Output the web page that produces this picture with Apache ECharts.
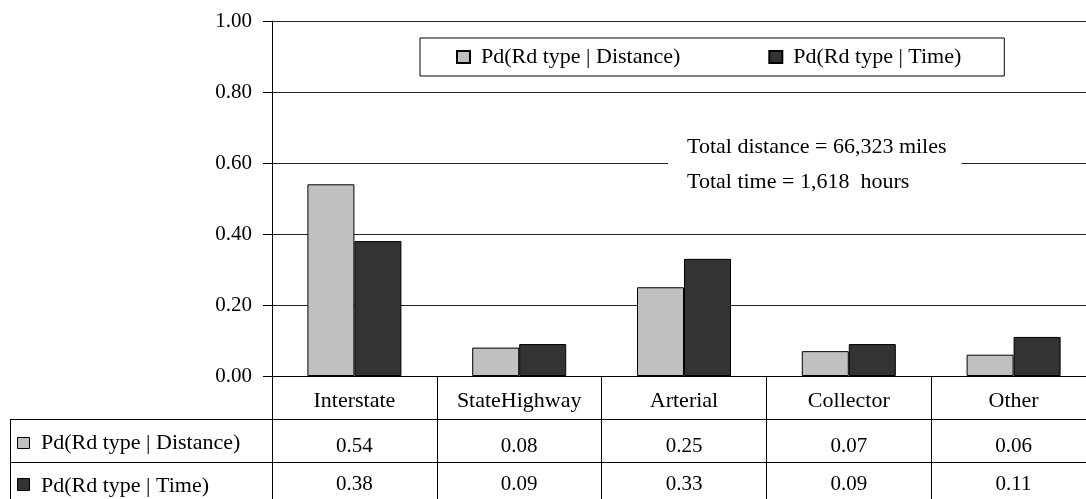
<!DOCTYPE html>
<html>
<head>
<meta charset="utf-8">
<script src="https://cdn.jsdelivr.net/npm/echarts@6/dist/echarts.min.js"></script>
<style>
  html, body { margin: 0; padding: 0; background: #fff; overflow: hidden; }
  /* the plot runs a little past the right edge of the picture */
  #chart { width: 1096px; height: 499px; }
</style>
</head>
<body>
<div id="chart"></div>
<script>
const categories = ["Interstate", "StateHighway", "Arterial", "Collector", "Other"];
const series_names = ["Pd(Rd type | Distance)", "Pd(Rd type | Time)"];
const by_distance = [0.54, 0.08, 0.25, 0.07, 0.06];
const by_time = [0.38, 0.09, 0.33, 0.09, 0.11];
const y_ticks = [0, 0.2, 0.4, 0.6, 0.8, 1.0];
const note_lines = ["Total distance = 66,323 miles", "Total time = 1,618  hours"];

const FONT = "Liberation Serif";
const LIGHT = "#c0c0c0";
const DARK = "#333333";
const LINE = "#000";

const num_style = { fontFamily: FONT, fontSize: 21, color: "#000" };
const text_style = { fontFamily: FONT, fontSize: 22, color: "#000" };

// data-table rows under the plot: one extra category axis per row
function table_axis(offset, margin, tick_len, style, formatter) {
    return {
        type: "category",
        data: categories,
        position: "bottom",
        offset,
        axisLine: { show: true, lineStyle: { color: LINE, width: 1 } },
        axisTick: { show: true, length: tick_len, lineStyle: { color: LINE } },
        axisLabel: { ...style, margin, formatter },
        splitLine: { show: false },
    };
}

const chart = echarts.init(document.getElementById("chart"), null, { renderer: "canvas" });

chart.setOption({
    animation: false,
    backgroundColor: "#fff",
    textStyle: { fontFamily: FONT },
    grid: { left: 272, top: 21, right: 0, bottom: 123, containLabel: false, outerBoundsMode: "none" },
    title: {
        text: note_lines.join("\n"),
        left: 668,
        top: 130,
        padding: [0, 15, 0, 19],
        backgroundColor: "#fff",
        textStyle: { ...text_style, fontWeight: "normal", lineHeight: 35 },
    },
    legend: {
        data: series_names,
        left: 420,
        top: 38,
        padding: [8, 43, 8, 36],
        itemGap: 88,
        itemWidth: 13,
        itemHeight: 12,
        borderColor: "#000",
        borderWidth: 1,
        backgroundColor: "#fff",
        icon: "rect",
        textStyle: { ...text_style, padding: [2, 0, 0, 6] },
    },
    xAxis: [
        table_axis(0, 14, 43, text_style, (v) => v),
        table_axis(43, 17, 43, num_style, (v, i) => by_distance[i].toFixed(2)),
        table_axis(86, 12, 40, num_style, (v, i) => by_time[i].toFixed(2)),
    ],
    yAxis: {
        type: "value",
        min: y_ticks[0],
        max: y_ticks[y_ticks.length - 1],
        interval: 0.2,
        axisLine: { show: true, lineStyle: { color: LINE } },
        axisTick: { show: true, length: 9, lineStyle: { color: LINE } },
        axisLabel: { ...num_style, margin: 20, formatter: (v) => v.toFixed(2) },
        splitLine: { show: true, lineStyle: { color: "#222", width: 1 } },
    },
    series: [
        {
            name: series_names[0],
            type: "bar",
            data: by_distance,
            barWidth: 47,
            barGap: "0%",
            itemStyle: { color: LIGHT, borderColor: "#000", borderWidth: 1 },
        },
        {
            name: series_names[1],
            type: "bar",
            data: by_time,
            barWidth: 47,
            barGap: "0%",
            itemStyle: { color: DARK, borderColor: "#000", borderWidth: 1 },
        },
    ],
    graphic: [
        // row header column left of the table
        { type: "line", shape: { x1: 10, y1: 419.5, x2: 272, y2: 419.5 }, style: { stroke: LINE, lineWidth: 1 } },
        { type: "line", shape: { x1: 10, y1: 462.5, x2: 272, y2: 462.5 }, style: { stroke: LINE, lineWidth: 1 } },
        { type: "line", shape: { x1: 10.5, y1: 419, x2: 10.5, y2: 499 }, style: { stroke: LINE, lineWidth: 1 } },
        { type: "rect", shape: { x: 17.5, y: 437.5, width: 12, height: 11 }, style: { fill: LIGHT, stroke: "#000", lineWidth: 1 } },
        { type: "rect", shape: { x: 17.5, y: 478.5, width: 12, height: 12 }, style: { fill: DARK, stroke: "#000", lineWidth: 1 } },
        { type: "text", x: 41, y: 443, style: { text: series_names[0], font: "22px " + FONT, fill: "#000", verticalAlign: "middle" } },
        { type: "text", x: 41, y: 486, style: { text: series_names[1], font: "22px " + FONT, fill: "#000", verticalAlign: "middle" } },
    ],
});
</script>
</body>
</html>
